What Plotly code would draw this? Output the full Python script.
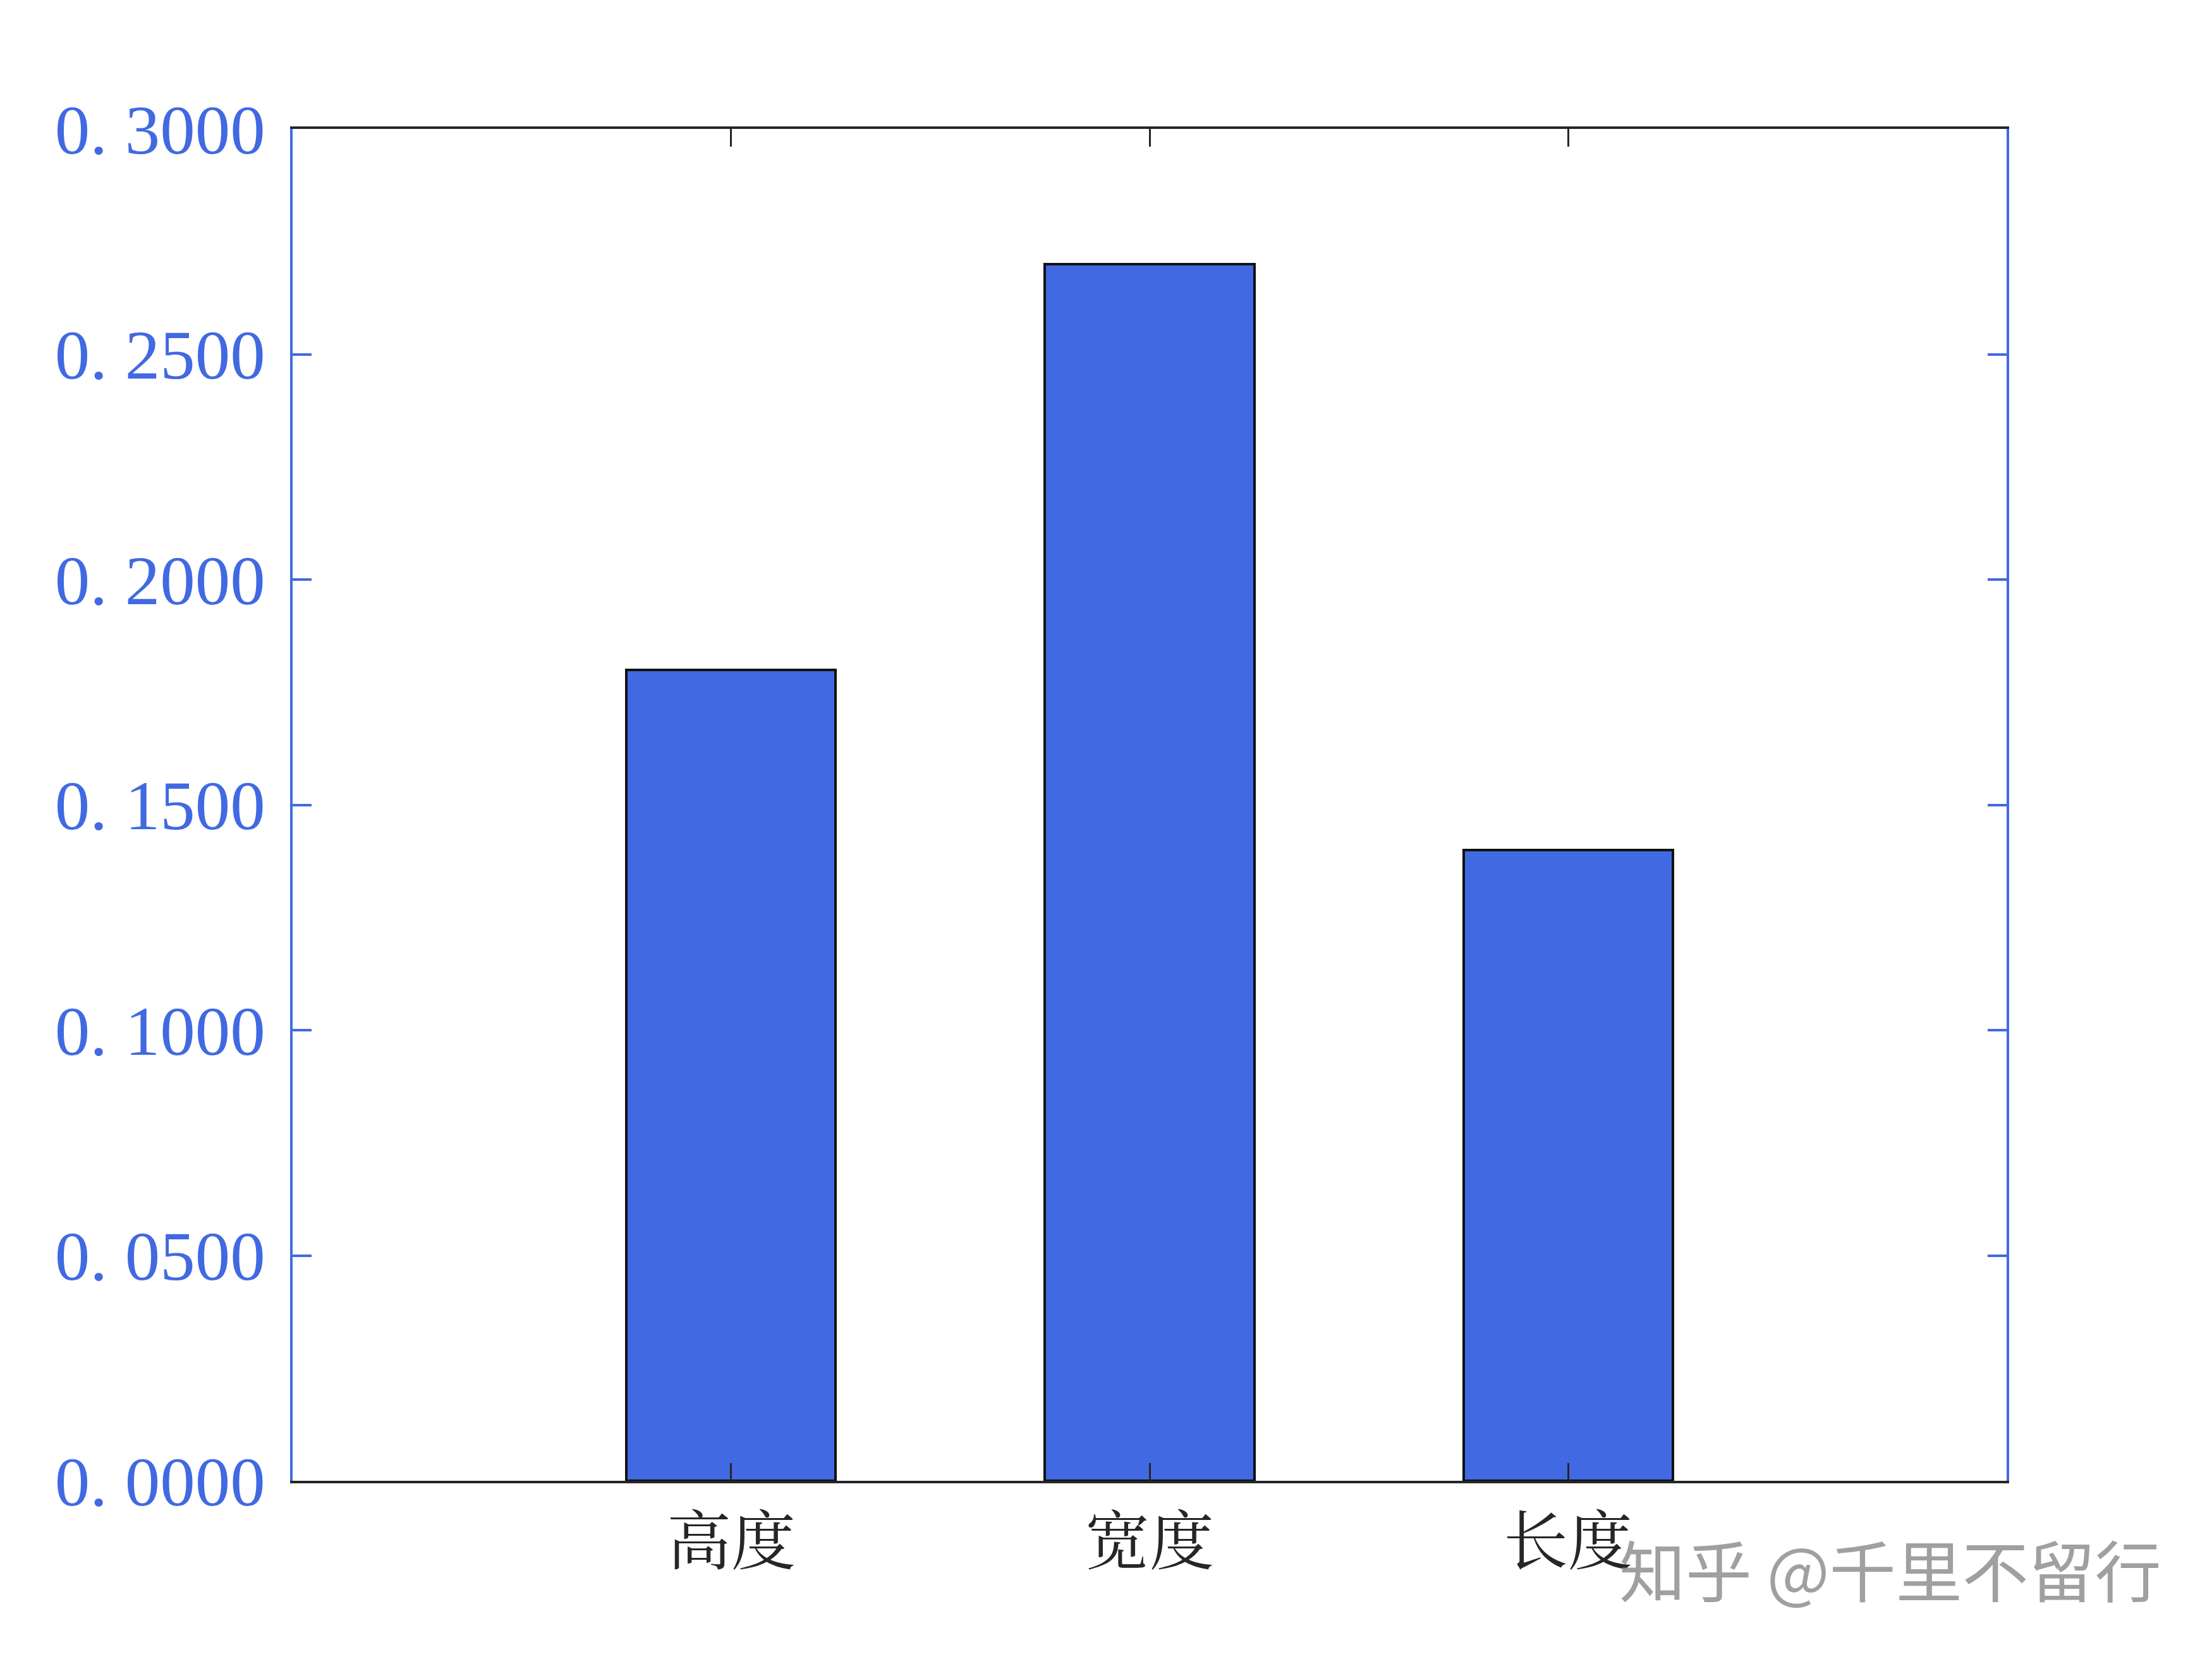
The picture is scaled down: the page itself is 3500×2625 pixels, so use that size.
import plotly.graph_objects as go

categories = ["高度", "宽度", "长度"]
x_positions = [1, 2, 3]
values = [0.18, 0.27, 0.14]
y_tick_values = [0.0, 0.05, 0.10, 0.15, 0.20, 0.25, 0.30]
y_tick_labels = ["0. 0000", "0. 0500", "0. 1000", "0. 1500", "0. 2000", "0. 2500", "0. 3000"]
watermark = "知乎 @千里不留行"

BLUE = "#4169E1"
BLACK = "#262626"

fig = go.Figure()
fig.add_trace(go.Bar(
    x=x_positions,
    y=values,
    width=0.5,
    marker=dict(color=BLUE, line=dict(color="#111111", width=4)),
    showlegend=False,
    hoverinfo="skip",
))

fig.update_layout(
    width=3500,
    height=2625,
    margin=dict(l=455, r=333, t=196, b=290, pad=0),
    paper_bgcolor="white",
    plot_bgcolor="white",
    bargap=0,
)

fig.update_xaxes(
    range=[-0.048, 4.048],
    tickmode="array",
    tickvals=x_positions,
    ticktext=categories,
    ticks="inside",
    ticklen=28,
    tickwidth=3,
    tickcolor=BLACK,
    showline=True,
    linecolor=BLACK,
    linewidth=4,
    mirror="ticks",
    showgrid=False,
    zeroline=False,
    tickfont=dict(family="Noto Serif CJK SC, Noto Sans CJK SC, serif", size=102, color=BLACK),
    ticklabelstandoff=6,
)

fig.update_yaxes(
    range=[0, 0.3],
    tickmode="array",
    tickvals=y_tick_values,
    ticktext=y_tick_labels,
    ticks="inside",
    ticklen=30,
    tickwidth=4,
    tickcolor=BLUE,
    showline=True,
    linecolor=BLUE,
    linewidth=4,
    mirror="ticks",
    showgrid=False,
    zeroline=False,
    tickfont=dict(family="Liberation Serif, Times New Roman, serif", size=111, color=BLUE),
    ticklabelstandoff=17,
)

fig.add_annotation(
    text=watermark,
    xref="paper", yref="paper",
    x=0.932, y=-0.064,
    xanchor="center", yanchor="middle",
    showarrow=False,
    font=dict(family="Noto Sans CJK SC, sans-serif", size=105, color="rgba(150,150,150,0.9)"),
)

fig.write_html("out.html", config={"displayModeBar": False})
